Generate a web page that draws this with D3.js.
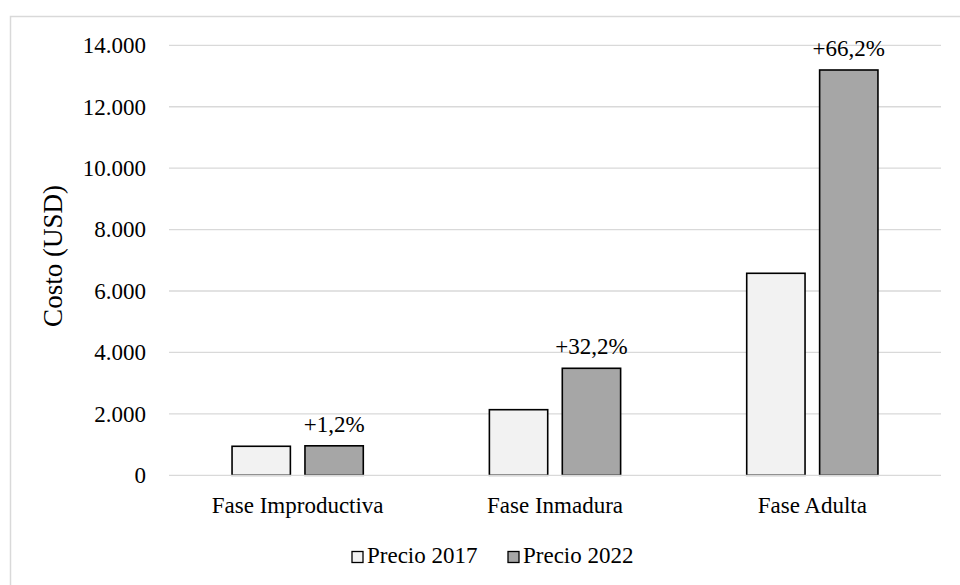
<!DOCTYPE html>
<html>
<head>
<meta charset="utf-8">
<script src="https://d3js.org/d3.v7.min.js"></script>
<style>
    body { margin: 0; background: #fff; }
    svg text { font-family: "Liberation Serif", "Times New Roman", serif; fill: #000; }
    line.grid { stroke: #d9d9d9; stroke-width: 1.3; }
    rect.bar { stroke: #000; stroke-width: 1.6; }
</style>
</head>
<body>
<svg id="chart"></svg>
<script>
    var Width = 960, Height = 585;
    var Left = 169, Right = 941, Top = 45.3, Bottom = 475.3;

    var categories = ["Fase Improductiva", "Fase Inmadura", "Fase Adulta"];
    var series = ["Precio 2017", "Precio 2022"];
    var colors = ["#f2f2f2", "#a6a6a6"];
    var precio2017 = [945, 2136, 6577];
    var precio2022 = [960, 3484, 13196];
    var changeLabels = ["+1,2%", "+32,2%", "+66,2%"];
    var yTicks = [0, 2000, 4000, 6000, 8000, 10000, 12000, 14000];

    var values = [precio2017, precio2022];

    var svg = d3.select("#chart").attr("width", Width).attr("height", Height);

    // chart area border
    svg.append("rect")
        .attr("x", 10.5).attr("y", 16.5)
        .attr("width", Width).attr("height", Height)
        .attr("fill", "none").attr("stroke", "#d9d9d9").attr("stroke-width", 1.5);

    var x0 = d3.scaleBand().domain(categories).range([Left, Right])
        .paddingInner(0.49).paddingOuter(0.245);
    var x1 = d3.scaleBand().domain(series).range([0, x0.bandwidth()]).paddingInner(0.2);
    var y = d3.scaleLinear().domain([0, 14000]).range([Bottom, Top]);

    var fmt = function(v){ return d3.format(",")(v).replace(/,/g, "."); };

    // gridlines
    svg.append("g").selectAll("line")
        .data(yTicks.filter(function(d){ return d > 0; }))
        .enter().append("line").classed("grid", true)
            .attr("x1", Left).attr("x2", Right)
            .attr("y1", function(d){ return y(d); })
            .attr("y2", function(d){ return y(d); });

    // y axis labels
    var yAxis = d3.axisLeft(y).tickValues(yTicks).tickFormat(fmt).tickSize(0).tickPadding(23);
    var gy = svg.append("g").attr("transform", "translate(" + Left + ",0)").call(yAxis);
    gy.select(".domain").remove();
    gy.selectAll("text").attr("font-size", 23).attr("font-family", "Liberation Serif");

    // bars
    var groups = svg.append("g").selectAll("g")
        .data(categories)
        .enter().append("g")
            .attr("transform", function(d){ return "translate(" + x0(d) + ",0)"; });

    groups.selectAll("rect")
        .data(function(d, i){
            return series.map(function(s, j){ return { s: s, j: j, v: values[j][i] }; });
        })
        .enter().append("rect").classed("bar", true)
            .attr("x", function(d){ return x1(d.s); })
            .attr("width", x1.bandwidth())
            .attr("y", function(d){ return y(d.v); })
            .attr("height", function(d){ return y(0) - y(d.v); })
            .attr("fill", function(d){ return colors[d.j]; });

    // baseline
    svg.append("line").classed("grid", true)
        .attr("x1", Left).attr("x2", Right)
        .attr("y1", y(0)).attr("y2", y(0));

    // change labels above 2022 bars
    svg.append("g").selectAll("text")
        .data(categories)
        .enter().append("text")
            .attr("x", function(d){ return x0(d) + x1(series[1]) + x1.bandwidth()/2; })
            .attr("y", function(d, i){ return y(precio2022[i]) - 14; })
            .attr("text-anchor", "middle")
            .attr("font-size", 23)
            .text(function(d, i){ return changeLabels[i]; });

    // x axis labels
    var xAxis = d3.axisBottom(x0).tickSize(0).tickPadding(21);
    var gx = svg.append("g").attr("transform", "translate(0," + Bottom + ")").call(xAxis);
    gx.select(".domain").remove();
    gx.selectAll("text").attr("font-size", 23).attr("font-family", "Liberation Serif");

    // y axis title
    svg.append("text")
        .attr("transform", "translate(62,256) rotate(-90)")
        .attr("text-anchor", "middle")
        .attr("font-size", 27)
        .text("Costo (USD)");

    // legend
    var legendX = [352, 508];
    var legend = svg.append("g").selectAll("g")
        .data(series)
        .enter().append("g")
            .attr("transform", function(d, i){ return "translate(" + legendX[i] + ",549)"; });
    legend.append("rect")
        .attr("x", 0).attr("y", 2.5).attr("width", 11).attr("height", 11)
        .attr("fill", function(d, i){ return colors[i]; })
        .attr("stroke", "#000").attr("stroke-width", 1.3);
    legend.append("text")
        .attr("x", 15).attr("y", 14)
        .attr("font-size", 23)
        .text(function(d){ return d; });
</script>
</body>
</html>
